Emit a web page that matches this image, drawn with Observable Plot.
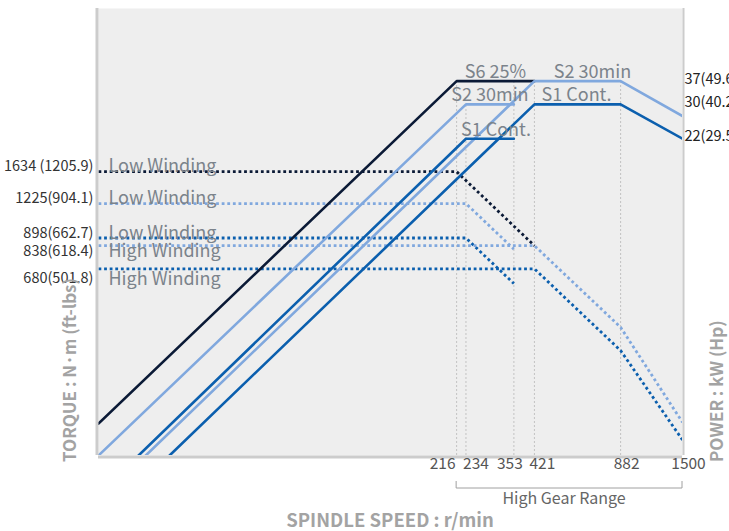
<!DOCTYPE html>
<html><head><meta charset="utf-8">
<script src="https://cdn.jsdelivr.net/npm/d3@7"></script>
<script src="https://cdn.jsdelivr.net/npm/@observablehq/plot@0.6"></script>
<style>
body{margin:0;background:#fff;}
svg{display:block;overflow:visible}
</style></head><body><div id="chart"></div>
<script>
// ---- data ----
const speedTicks = [216, 234, 353, 421, 882, 1500];           // r/min
const gridTopPower = [37, 30, 37, 37, 37];                     // kW reached at each tick speed

// power curves (speed r/min, power kW)
const s6Speed = [10, 216, 421];            const s6Power = [1.68, 37, 37];
const lowS2Speed = [10, 234, 353];         const lowS2Power = [1.26, 30, 30];
const lowS1Speed = [14.1, 234, 353];       const lowS1Power = [1.26, 22, 22];
const highS2Speed = [15, 421, 882, 1500];  const highS2Power = [1.26, 37, 37, 27];
const highS1Speed = [18.4, 421, 882, 1500];const highS1Power = [1.26, 30, 30, 22];

// torque curves (speed r/min, torque N·m)
const s6TqSpeed = [10, 216, 421];          const s6Torque = [1634, 1634, 838];
const lowS2TqSpeed = [10, 234, 353];       const lowS2Torque = [1225, 1225, 812];
const lowS1TqSpeed = [10, 234, 353];       const lowS1Torque = [898, 898, 595];
const highS2TqSpeed = [10, 421, 882, 1500];const highS2Torque = [838, 838, 401, 170];
const highS1TqSpeed = [10, 421, 882, 1500];const highS1Torque = [680, 680, 325, 145];

const torqueTicks = [1634, 1225, 898, 838, 680];
const torqueTickLabels = ["1634 (1205.9)", "1225(904.1)", "898(662.7)", "838(618.4)", "680(501.8)"];
const windingLabels = ["Low Winding", "Low Winding", "Low Winding", "High Winding", "High Winding"];
const powerTicks = [37, 30, 22];
const powerTickLabels = ["37(49.6)", "30(40.2)", "22(29.5)"];
const dutyText = ["S6 25%", "S2 30min", "S2 30min", "S1 Cont.", "S1 Cont."];

// ---- layout / style ----
const FONT = "'Noto Sans CJK KR', 'Noto Sans', sans-serif";
const TQ = 0.01;              // torque drawn on the power scale (N·m -> chart units)
const YMIN = 1.26, YMAX = 71.3;
const C = {navy: "#0b1a36", light: "#80a8de", dark: "#0b5fae"};
const pts = (xs, ys, f = 1) => xs.map((x, i) => ({x, y: ys[i] * f}));
const dotted = {strokeWidth: 2.8, strokeDasharray: "2.8,2.8", strokeLinecap: "butt", clip: true};
const solid = {strokeWidth: 2.6, clip: true};

const tickNudgeX = [-14, 10, -4, 8, 6, 6];
const torqueNudgeY = [-5, -5, -5, 6, 10];

// duty label anchors: flat segment endpoints (r/min), power level, dx
const dutyAnchors = [
  {seg: [216, 421], p: 37, dx: 0},
  {seg: [421, 882], p: 37, dx: 15},
  {seg: [234, 353], p: 30, dx: 0},
  {seg: [421, 882], p: 30, dx: -1},
  {seg: [234, 353], p: 22, dx: 6}
];

const marks = [
  Plot.frame({fill: "#eeeeee", stroke: "none"}),
  Plot.ruleX(speedTicks.slice(0, 5), {x: d => d, y1: YMIN, y2: (d, i) => gridTopPower[i], stroke: "#c2c2c2", strokeWidth: 1, strokeDasharray: "2,2"}),
  // torque (dotted)
  Plot.line(pts(s6TqSpeed, s6Torque, TQ), {x: "x", y: "y", stroke: C.navy, ...dotted}),
  Plot.line(pts(lowS2TqSpeed, lowS2Torque, TQ), {x: "x", y: "y", stroke: C.light, ...dotted}),
  Plot.line(pts(lowS1TqSpeed, lowS1Torque, TQ), {x: "x", y: "y", stroke: C.dark, ...dotted}),
  Plot.line(pts(highS2TqSpeed, highS2Torque, TQ), {x: "x", y: "y", stroke: C.light, ...dotted}),
  Plot.line(pts(highS1TqSpeed, highS1Torque, TQ), {x: "x", y: "y", stroke: C.dark, ...dotted}),
  // power (solid)
  Plot.line(pts(s6Speed, s6Power), {x: "x", y: "y", stroke: C.navy, ...solid}),
  Plot.line(pts(lowS2Speed, lowS2Power), {x: "x", y: "y", stroke: C.light, ...solid}),
  Plot.line(pts(highS2Speed, highS2Power), {x: "x", y: "y", stroke: C.light, ...solid}),
  Plot.line(pts(lowS1Speed, lowS1Power), {x: "x", y: "y", stroke: C.dark, ...solid}),
  Plot.line(pts(highS1Speed, highS1Power), {x: "x", y: "y", stroke: C.dark, ...solid}),
  // borders
  Plot.ruleX([10], {stroke: "#cccccc", strokeWidth: 3, dx: -1.5}),
  Plot.ruleX([1500], {stroke: "#cccccc", strokeWidth: 2, dx: 1}),
  Plot.ruleY([YMIN], {stroke: "#cccccc", strokeWidth: 3, dy: 1.5, x1: 10, x2: 1500})
];

// x tick labels
speedTicks.forEach((t, i) => marks.push(Plot.text([t], {
  x: d => d, frameAnchor: "bottom", dy: 13, dx: tickNudgeX[i], text: d => String(d),
  fontSize: 15.5, fill: "#555", fontFamily: FONT
})));
// torque tick labels + winding labels
torqueTicks.forEach((t, i) => {
  marks.push(Plot.text([t], {
    y: d => d * TQ, frameAnchor: "left", dx: -5, dy: torqueNudgeY[i], textAnchor: "end",
    text: () => torqueTickLabels[i], fontSize: 14.5, fill: "#333", fontFamily: FONT
  }));
  marks.push(Plot.text([t], {
    y: d => d * TQ, frameAnchor: "left", dx: 10, dy: torqueNudgeY[i], textAnchor: "start",
    text: () => windingLabels[i], fontSize: 18, fill: "#7b838b", fontFamily: FONT
  }));
});
// power tick labels
powerTicks.forEach((p, i) => marks.push(Plot.text([p], {
  y: d => d, frameAnchor: "right", dx: 2, dy: -2, textAnchor: "start",
  text: () => powerTickLabels[i], fontSize: 14.5, fill: "#222", fontFamily: FONT
})));
// duty labels
dutyAnchors.forEach((a, i) => marks.push(Plot.text([a], {
  x: d => Math.sqrt(d.seg[0] * d.seg[1]), y: d => d.p, dx: a.dx, dy: -9,
  text: () => dutyText[i], fontSize: 18, fill: "#7b838b", fontFamily: FONT
})));

const plot = Plot.plot({
  width: 729, height: 531,
  marginLeft: 98, marginRight: 47, marginTop: 8, marginBottom: 76,
  x: {type: "log", domain: [10, 1500], axis: null},
  y: {type: "log", domain: [YMIN, YMAX], axis: null},
  style: {fontFamily: FONT, background: "white", overflow: "visible"},
  marks
});
document.getElementById("chart").append(plot);

// annotations outside the frame, positioned with the plot's own x scale
const xs = plot.scale("x");
const fx = xs.apply ? (v => xs.apply(v)) : Plot.scale({x: xs}).apply;
const svg = d3.select(plot);
const gx0 = fx(216), gx1 = fx(1500);
svg.append("path").attr("d", `M${gx0},481V488H${gx1}V481`)
  .attr("fill", "none").attr("stroke", "#a0a0a0").attr("stroke-width", 1);
svg.append("text").attr("x", (gx0 + gx1) / 2 - 5).attr("y", 498).attr("dy", "0.35em")
  .attr("text-anchor", "middle").attr("font-size", 16).attr("fill", "#666")
  .attr("font-family", FONT).text("High Gear Range");
svg.append("text").attr("x", 390).attr("y", 521).attr("dy", "0.35em")
  .attr("text-anchor", "middle").attr("font-size", 18.5).attr("font-weight", "bold")
  .attr("fill", "#a3a3a3").attr("font-family", FONT).text("SPINDLE SPEED : r/min");
svg.append("text").attr("transform", "translate(70,462) rotate(-90)").attr("dy", "0.35em")
  .attr("text-anchor", "start").attr("font-size", 17).attr("font-weight", "bold")
  .attr("fill", "#a3a3a3").attr("font-family", FONT).text("TORQUE : N·m (ft-lbs)");
svg.append("text").attr("transform", "translate(717,462) rotate(-90)").attr("dy", "0.35em")
  .attr("text-anchor", "start").attr("font-size", 17).attr("font-weight", "bold")
  .attr("fill", "#a3a3a3").attr("font-family", FONT).text("POWER : kW (Hp)");
</script>
</body></html>
